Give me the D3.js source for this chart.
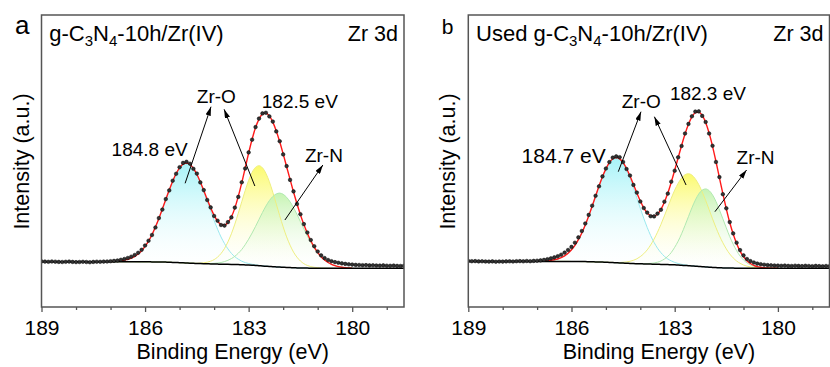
<!DOCTYPE html>
<html>
<head>
<meta charset="utf-8">
<script src="https://cdn.jsdelivr.net/npm/d3@7"></script>
<style>
  body { margin: 0; background: #fff; }
  svg { display: block; font-family: "Liberation Sans", Arial, sans-serif; }
</style>
</head>
<body>
<div class="container"></div>
<script>
// binding energy of the measured points (eV)
const energy = [
  189.0,188.9,188.8,188.7,188.6,188.5,188.4,188.3,188.2,188.1,
  188.0,187.9,187.8,187.7,187.6,187.5,187.4,187.3,187.2,187.1,
  187.0,186.9,186.8,186.7,186.6,186.5,186.4,186.3,186.2,186.1,
  186.0,185.9,185.8,185.7,185.6,185.5,185.4,185.3,185.2,185.1,
  185.0,184.9,184.8,184.7,184.6,184.5,184.4,184.3,184.2,184.1,
  184.0,183.9,183.8,183.7,183.6,183.5,183.4,183.3,183.2,183.1,
  183.0,182.9,182.8,182.7,182.6,182.5,182.4,182.3,182.2,182.1,
  182.0,181.9,181.8,181.7,181.6,181.5,181.4,181.3,181.2,181.1,
  181.0,180.9,180.8,180.7,180.6,180.5,180.4,180.3,180.2,180.1,
  180.0,179.9,179.8,179.7,179.6,179.5,179.4,179.3,179.2,179.1,
  179.0,178.9,178.8,178.7,178.6,178.5
];
// energy grid of the fitted curves
const fitEnergy = [
  187.0,186.9,186.8,186.7,186.6,186.5,186.4,186.3,186.2,186.1,
  186.0,185.9,185.8,185.7,185.6,185.5,185.4,185.3,185.2,185.1,
  185.0,184.9,184.8,184.7,184.6,184.5,184.4,184.3,184.2,184.1,
  184.0,183.9,183.8,183.7,183.6,183.5,183.4,183.3,183.2,183.1,
  183.0,182.9,182.8,182.7,182.6,182.5,182.4,182.3,182.2,182.1,
  182.0,181.9,181.8,181.7,181.6,181.5,181.4,181.3,181.2,181.1,
  181.0,180.9,180.8,180.7,180.6,180.5,180.4,180.3,180.2,180.1,
  180.0
];
const majorTicks = [189, 186, 183, 180];
const minorTicks = [188, 187, 185, 184, 182, 181, 179];

// ---- panel a : g-C3N4-10h/Zr(IV)
const dotsA = [
  45.6,45.4,45.2,45.5,45.3,45.1,45.0,45.2,45.4,45.1,
  44.9,45.0,45.2,45.0,44.8,45.1,45.3,45.2,45.4,45.5,
  45.8,46.1,46.5,47.2,48.0,49.0,50.3,52.0,54.2,57.2,
  61.5,66.3,72.0,79.5,88.9,97.4,107.9,116.6,126.3,133.2,
  139.8,144.1,145.2,143.3,138.2,133.4,124.6,116.9,107.0,99.6,
  91.0,86.3,82.0,81.4,84.9,89.6,99.4,110.1,124.7,138.5,
  154.6,167.3,179.9,188.4,193.6,194.2,190.6,185.4,175.6,165.8,
  152.6,140.9,127.1,115.6,103.0,92.8,82.9,74.5,67.0,60.8,
  55.5,51.6,48.9,47.0,45.8,44.9,44.2,43.6,43.1,42.7,
  42.4,42.1,42.0,41.8,41.9,41.6,41.7,41.5,41.4,41.6,
  41.3,41.2,41.4,41.1,41.0,41.2
];
const bgA = [
  45.3,45.3,45.3,45.3,45.3,45.3,45.3,45.3,45.2,45.2,
  45.2,45.2,45.1,45.1,45.0,45.0,44.9,44.8,44.6,44.5,
  44.3,44.2,44.0,43.8,43.7,43.5,43.4,43.3,43.2,43.1,
  43.0,42.9,42.8,42.8,42.7,42.6,42.5,42.4,42.2,42.1,
  42.0,41.8,41.5,41.3,41.0,40.8,40.6,40.3,40.1,39.9,
  39.7,39.5,39.4,39.2,39.1,39.0,38.9,38.9,38.8,38.8,
  38.8,38.7,38.7,38.7,38.7,38.7,38.7,38.7,38.7,38.7,
  38.7
];
const bgEdgeA = [45.3, 38.7];   // background at 189 and 178.5 eV
const zrO52A = [   // Zr-O 3d3/2, 184.8 eV
  0.2,0.3,0.6,0.9,1.5,2.3,3.6,5.4,7.8,11.1,
  15.4,20.7,27.2,34.9,43.5,52.9,62.6,72.2,81.2,89.0,
  94.9,98.7,100,98.7,94.9,89.0,81.2,72.2,62.6,52.9,
  43.5,34.9,27.2,20.7,15.4,11.1,7.8,5.4,3.6,2.3,
  1.5,0.9,0.6,0.3,0.2,0.1,0,0,0,0,
  0,0,0,0,0,0,0,0,0,0,
  0,0,0,0,0,0,0,0,0,0,
  0
];
const zrO32A = [   // Zr-O 3d5/2
  0,0,0,0,0,0,0,0,0,0,
  0,0,0,0,0,0,0,0,0,0,
  0,0,0,0,0.1,0.2,0.5,0.9,1.6,2.7,
  4.4,7.0,10.7,15.7,22.4,30.6,40.4,51.4,63.0,74.4,
  84.7,92.9,98.2,100,98.2,92.9,84.7,74.4,63.0,51.4,
  40.4,30.6,22.4,15.7,10.7,7.0,4.4,2.7,1.6,0.9,
  0.5,0.2,0.1,0,0,0,0,0,0,0,
  0
];
const zrNA = [     // Zr-N
  0,0,0,0,0,0,0,0,0,0,
  0,0,0,0,0,0,0,0,0,0,
  0,0,0,0,0,0,0,0.1,0.2,0.4,
  0.7,1.1,1.7,2.6,4.0,5.8,8.2,11.4,15.3,20.2,
  25.8,32.2,39.1,46.3,53.5,60.1,65.8,70.2,73.0,74,
  73.0,70.2,65.8,60.1,53.5,46.3,39.1,32.2,25.8,20.2,
  15.3,11.4,8.2,5.8,4.0,2.6,1.7,1.1,0.7,0.4,
  0.2
];

// ---- panel b : used g-C3N4-10h/Zr(IV)
const dotsB = [
  46.0,45.8,45.9,45.6,45.7,45.5,45.4,45.6,45.3,45.5,
  45.4,45.6,45.7,45.5,45.8,45.9,45.7,46.0,45.8,46.1,
  46.3,46.6,47.1,47.8,48.6,49.6,50.8,52.3,54.4,57.0,
  60.1,64.3,69.6,76.0,83.5,92.1,101.3,111.2,120.7,130.6,
  138.5,144.9,149.4,150.6,149.8,145.0,138.0,131.5,122.1,114.4,
  105.5,99.0,94.4,90.8,90.6,93.4,97.2,105.3,113.4,125.3,
  136.3,149.7,161.0,173.5,183.1,190.7,195.4,195.6,191.1,185.0,
  173.5,161.2,145.0,129.9,112.8,98.7,84.9,73.6,64.3,56.9,
  51.6,48.0,45.9,44.5,43.4,42.8,42.3,41.9,41.7,41.5,
  41.4,41.2,41.4,41.1,41.0,41.3,41.1,40.9,41.2,41.0,
  40.8,41.1,40.9,40.7,41.0,40.8
];
const bgB = [
  45.6,45.6,45.6,45.6,45.6,45.6,45.6,45.6,45.6,45.6,
  45.5,45.5,45.5,45.4,45.4,45.3,45.2,45.1,45.0,44.9,
  44.7,44.6,44.4,44.2,44.0,43.9,43.7,43.6,43.4,43.3,
  43.2,43.1,43.0,42.9,42.8,42.7,42.6,42.5,42.4,42.3,
  42.2,41.9,41.7,41.5,41.3,41.1,40.8,40.6,40.3,40.1,
  39.8,39.6,39.4,39.2,39.1,39.0,38.9,38.9,38.8,38.8,
  38.7,38.7,38.7,38.7,38.7,38.7,38.7,38.7,38.7,38.7,
  38.7
];
const bgEdgeB = [45.6, 38.7];
const zrO52B = [
  0.1,0.2,0.3,0.6,1.0,1.6,2.4,3.8,5.6,8.2,
  11.7,16.1,21.8,28.6,36.6,45.7,55.5,65.7,75.9,85.3,
  93.4,99.6,103.6,105,103.6,99.6,93.4,85.3,75.9,65.7,
  55.5,45.7,36.6,28.6,21.8,16.1,11.7,8.2,5.6,3.8,
  2.4,1.6,1.0,0.6,0.3,0.2,0.1,0,0,0,
  0,0,0,0,0,0,0,0,0,0,
  0,0,0,0,0,0,0,0,0,0,
  0
];
const zrO32B = [
  0,0,0,0,0,0,0,0,0,0,
  0,0,0,0,0,0,0,0,0,0,
  0,0.1,0.2,0.3,0.5,0.8,1.4,2.1,3.3,4.9,
  7.2,10.2,14.1,19.1,25.1,32.1,40.0,48.6,57.6,66.5,
  74.7,81.8,87.3,90.8,92,90.8,87.3,81.8,74.7,66.5,
  57.6,48.6,40.0,32.1,25.1,19.1,14.1,10.2,7.2,4.9,
  3.3,2.1,1.4,0.8,0.5,0.3,0.2,0.1,0,0,
  0
];
const zrNB = [
  0,0,0,0,0,0,0,0,0,0,
  0,0,0,0,0,0,0,0,0,0,
  0,0,0,0,0,0,0,0,0,0,
  0.1,0.2,0.4,0.7,1.2,2.1,3.4,5.5,8.3,12.2,
  17.5,23.9,31.5,40.1,49.1,58.0,66.1,72.5,76.6,78,
  76.6,72.5,66.1,58.0,49.1,40.1,31.5,23.9,17.5,12.2,
  8.3,5.5,3.4,2.1,1.2,0.7,0.4,0.2,0.1,0,
  0
];

const w = 830, h = 367;
const plotTop = 15, plotBottom = 307;

const svg = d3.select('.container').append('svg')
    .attr('width', w)
    .attr('height', h);

const defs = svg.append('defs');
defs.append('marker')
    .attr('id', 'arrow')
    .attr('viewBox', '0 0 10 6')
    .attr('refX', 10).attr('refY', 3)
    .attr('markerWidth', 9).attr('markerHeight', 5.4)
    .attr('markerUnits', 'userSpaceOnUse')
    .attr('orient', 'auto')
  .append('path')
    .attr('d', 'M0,0L10,3L0,6Z')
    .attr('fill', '#000');

const compStyle = [
  {id: 'cyan', top: '#9ff2f7', line: '#9ae8ee'},
  {id: 'yel', top: '#fbfa62', line: '#eeee80'},
  {id: 'grn', top: '#c2f3ad', line: '#b0e8b0'}
];
compStyle.forEach(function(c){
  const gr = defs.append('linearGradient').attr('id', 'g-' + c.id)
      .attr('x1', 0).attr('y1', 0).attr('x2', 0).attr('y2', 1);
  gr.append('stop').attr('offset', '0%').attr('stop-color', c.top).attr('stop-opacity', 0.92);
  gr.append('stop').attr('offset', '100%').attr('stop-color', '#ffffff').attr('stop-opacity', 0.15);
});

const panels = [
  {
    letter: 'a', letterSize: 26, prefix: '', x0: 41.5, x1: 404,
    dots: dotsA, bg: bgA, bgEdge: bgEdgeA, comps: [zrO52A, zrO32A, zrNA],
    labels: [
      {t: '184.8 eV', e: 186.97, i: 151, s: 19},
      {t: 'Zr-O', e: 184.50, i: 204.3, s: 19},
      {t: '182.5 eV', e: 182.62, i: 198.7, s: 19},
      {t: 'Zr-N', e: 181.37, i: 145.3, s: 19}
    ],
    arrows: [[184.84, 123.7, 184.09, 200.3], [182.82, 121, 183.71, 197.7], [181.95, 87, 180.85, 142]]
  },
  {
    letter: 'b', letterSize: 21, prefix: 'Used ', x0: 468.3, x1: 829.5,
    dots: dotsB, bg: bgB, bgEdge: bgEdgeB, comps: [zrO52B, zrO32B, zrNB],
    labels: [
      {t: '184.7 eV', e: 187.45, i: 143.7, s: 21},
      {t: 'Zr-O', e: 184.54, i: 198.7, s: 19},
      {t: '182.3 eV', e: 183.14, i: 207, s: 19},
      {t: 'Zr-N', e: 181.2, i: 143, s: 19}
    ],
    arrows: [[184.64, 135.3, 183.98, 195.3], [182.67, 122, 183.59, 190.3], [181.83, 95.3, 180.91, 137]]
  }
];

const yScale = d3.scaleLinear().domain([0, 292]).range([plotBottom, plotTop]);

panels.forEach(function(p, k){
  const x = d3.scaleLinear().domain([189, 178.5]).range([p.x0, p.x1]);
  const g = svg.append('g');

  defs.append('clipPath').attr('id', 'clip' + k)
    .append('rect').attr('x', p.x0).attr('y', plotTop)
    .attr('width', p.x1 - p.x0).attr('height', plotBottom - plotTop);

  const plot = g.append('g').attr('clip-path', 'url(#clip' + k + ')');

  // fitted components on top of the background
  p.comps.forEach(function(comp, c){
    const area = d3.area()
        .x((d, j) => x(fitEnergy[j]))
        .y0((d, j) => yScale(p.bg[j]))
        .y1((d, j) => yScale(p.bg[j] + d))
        .curve(d3.curveMonotoneX);
    plot.append('path').datum(comp)
        .attr('d', area)
        .attr('fill', 'url(#g-' + compStyle[c].id + ')');
  });
  p.comps.forEach(function(comp, c){
    const line = d3.line()
        .x((d, j) => x(fitEnergy[j]))
        .y((d, j) => yScale(p.bg[j] + d))
        .curve(d3.curveMonotoneX);
    plot.append('path').datum(comp)
        .attr('d', line)
        .attr('fill', 'none')
        .attr('stroke', compStyle[c].line)
        .attr('stroke-width', 1);
  });

  // envelope
  const env = fitEnergy.map((e, j) => p.bg[j] + p.comps[0][j] + p.comps[1][j] + p.comps[2][j]);
  plot.append('path').datum(env)
      .attr('d', d3.line().x((d, j) => x(fitEnergy[j])).y(d => yScale(d)).curve(d3.curveMonotoneX))
      .attr('fill', 'none')
      .attr('stroke', '#ff1a1a')
      .attr('stroke-width', 1.4);

  // background
  const bgLine = [[189, p.bgEdge[0]]].concat(fitEnergy.map((e, j) => [e, p.bg[j]]), [[178.5, p.bgEdge[1]]]);
  plot.append('path').datum(bgLine)
      .attr('d', d3.line().x(d => x(d[0])).y(d => yScale(d[1])).curve(d3.curveMonotoneX))
      .attr('fill', 'none')
      .attr('stroke', '#000')
      .attr('stroke-width', 1.5);

  // measured points
  plot.selectAll('circle')
      .data(p.dots)
      .enter()
      .append('circle')
      .attr('cx', (d, j) => x(energy[j]))
      .attr('cy', d => yScale(d))
      .attr('r', 1.8)
      .attr('fill', '#333')
      .attr('stroke', '#000')
      .attr('stroke-width', 0.5);

  // arrows
  p.arrows.forEach(function(a){
    g.append('line')
        .attr('x1', x(a[0])).attr('y1', yScale(a[1]))
        .attr('x2', x(a[2])).attr('y2', yScale(a[3]))
        .attr('stroke', '#000').attr('stroke-width', 1)
        .attr('marker-end', 'url(#arrow)');
  });

  p.labels.forEach(function(l){
    g.append('text')
        .attr('x', x(l.e)).attr('y', yScale(l.i))
        .style('font-size', l.s + 'px')
        .text(l.t);
  });

  // axes
  const xAxis = g.append('g')
      .attr('transform', 'translate(0,' + plotBottom + ')')
      .call(d3.axisBottom(x).tickValues(majorTicks).tickSize(5).tickSizeOuter(0).tickPadding(8).tickFormat(d3.format('d')));
  xAxis.select('.domain').remove();
  xAxis.selectAll('line').attr('stroke', '#555').attr('stroke-width', 1.3);
  xAxis.selectAll('text').style('font-size', '21px').attr('fill', '#000')
      .style('font-family', '"Liberation Sans", Arial, sans-serif');

  const minor = g.append('g')
      .attr('transform', 'translate(0,' + plotBottom + ')')
      .call(d3.axisBottom(x).tickValues(minorTicks).tickSize(3).tickSizeOuter(0).tickFormat(''));
  minor.select('.domain').remove();
  minor.selectAll('line').attr('stroke', '#555').attr('stroke-width', 1.3);

  g.append('rect')
      .attr('x', p.x0).attr('y', plotTop)
      .attr('width', p.x1 - p.x0).attr('height', plotBottom - plotTop)
      .attr('fill', 'none')
      .attr('stroke', '#555')
      .attr('stroke-width', 1.5);

  g.append('text')
      .attr('x', (p.x0 + p.x1) / 2 + 10).attr('y', 359)
      .attr('text-anchor', 'middle')
      .style('font-size', '21.5px')
      .text('Binding Energy (eV)');

  g.append('text')
      .attr('transform', 'translate(' + (p.x0 - 13) + ',161.5) rotate(-90)')
      .attr('text-anchor', 'middle')
      .style('font-size', '21.5px')
      .text('Intensity (a.u.)');

  // headers
  g.append('text')
      .attr('x', p.x0 - 26.5).attr('y', 34)
      .style('font-size', p.letterSize + 'px')
      .text(p.letter);

  const title = g.append('text')
      .attr('x', p.x0 + 7.8).attr('y', 40.5)
      .style('font-size', '22px');
  title.append('tspan').text(p.prefix + 'g-C');
  title.append('tspan').attr('dy', 5).style('font-size', '15px').text('3');
  title.append('tspan').attr('dy', -5).text('N');
  title.append('tspan').attr('dy', 5).style('font-size', '15px').text('4');
  title.append('tspan').attr('dy', -5).text('-10h/Zr(IV)');

  g.append('text')
      .attr('x', p.x1 - 6).attr('y', 41)
      .attr('text-anchor', 'end')
      .style('font-size', '21.5px')
      .text('Zr 3d');
});
</script>
</body>
</html>
